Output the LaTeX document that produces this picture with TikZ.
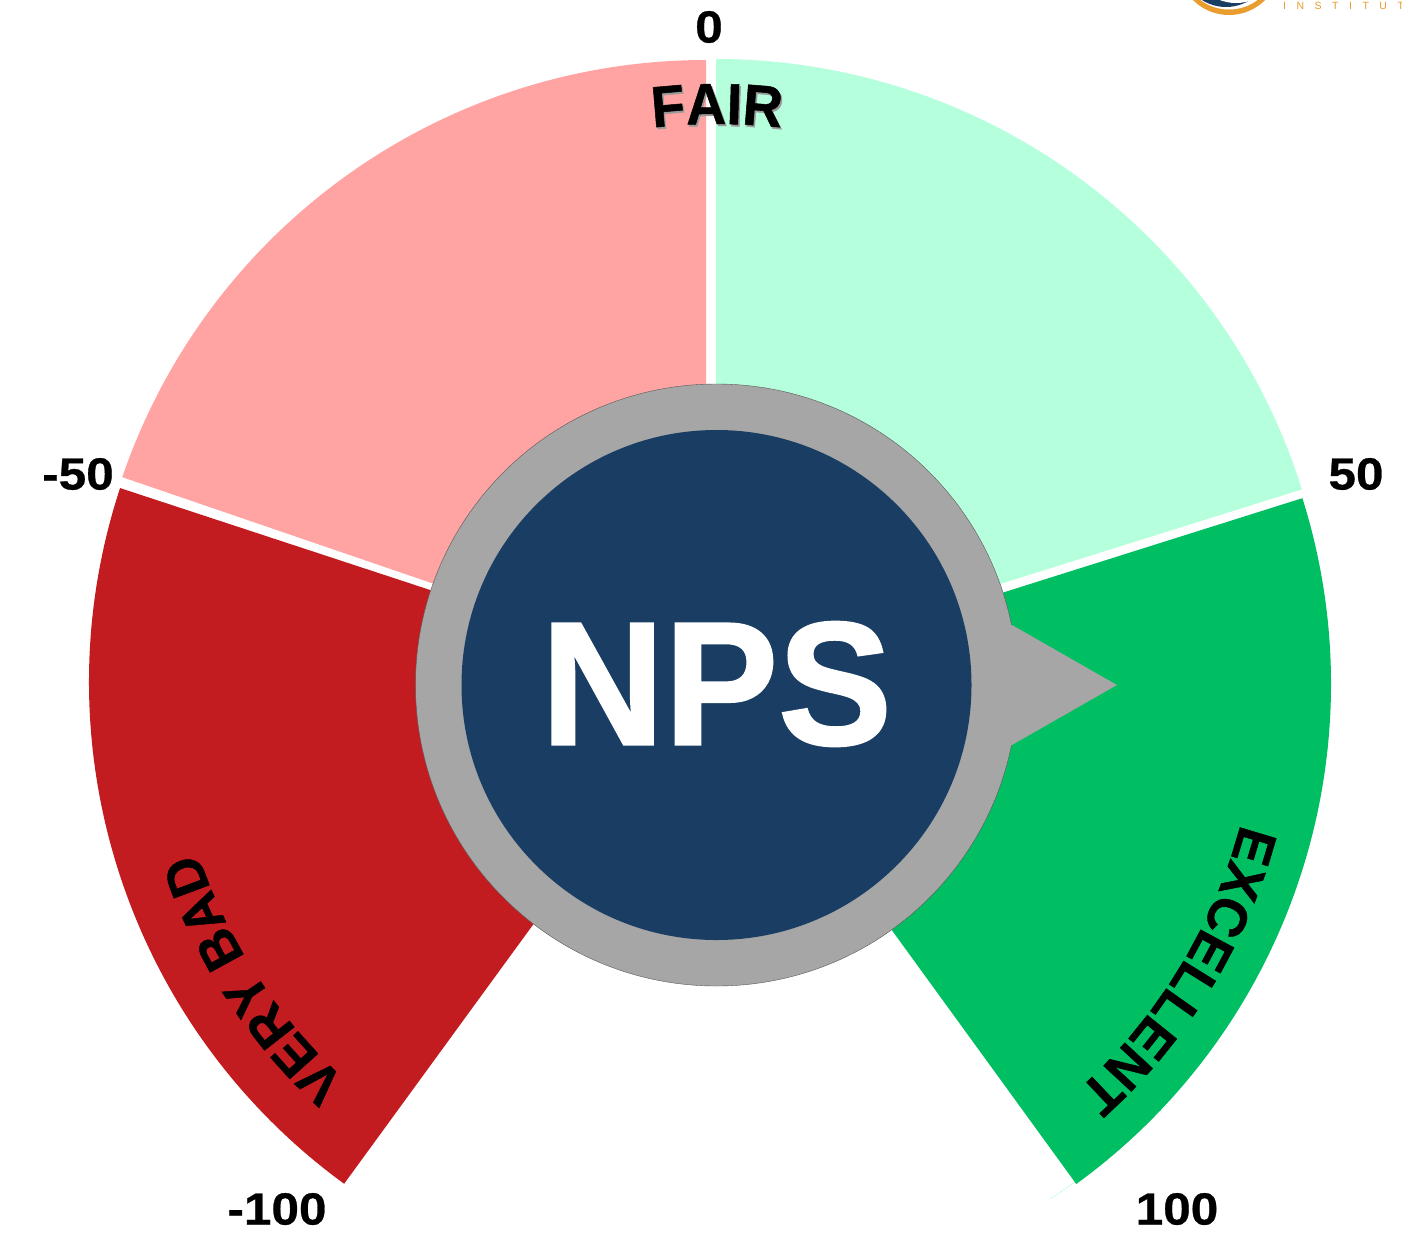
\documentclass[tikz,border=0pt]{standalone}
\usepackage{fontspec}
\setmainfont{Liberation Sans}
\newfontfamily\logofont[LetterSpace=100]{Liberation Sans}
\newfontfamily\widefont[FakeStretch=1.1,FakeBold=.6]{Liberation Sans}
\newfontfamily\npsfont[FakeStretch=.97,FakeBold=1.2]{Liberation Sans}
\newfontfamily\arcfamily[FakeStretch=.97,FakeBold=.9]{Liberation Sans}
\newfontfamily\fairfamily[FakeStretch=.95,FakeBold=.9]{Liberation Sans}
\usetikzlibrary{decorations.text,calc}
\definecolor{pinkc}{HTML}{FFA3A3}
\definecolor{mintc}{HTML}{B6FFDD}
\definecolor{redc}{HTML}{C31C20}
\definecolor{greenc}{HTML}{00BF63}
\definecolor{greyc}{HTML}{A6A6A6}
\definecolor{navyc}{HTML}{1A3E63}
\definecolor{orangec}{HTML}{E89D2E}
\newcommand\arcfont{\fontsize{55}{60}\selectfont\arcfamily\bfseries}
\newcommand\fairfont{\fontsize{58}{60}\selectfont\fairfamily\bfseries}
\tikzset{
  valuelabel/.style={font=\fontsize{45}{50}\selectfont\widefont\bfseries,inner sep=0pt,text=black},
  arctext/.style={decorate,decoration={text along path,text align=center,text={|\arcfont|#1}}},
  fairtext/.style={decorate,decoration={text along path,text align=center,text={|\fairfont\color{#1}|FAIR}}},
}
\begin{document}
\begin{tikzpicture}[x=1pt,y=-1pt]
\useasboundingbox (0,0) rectangle (1402,1232);
\clip (0,0) rectangle (1402,1232);
\fill[white] (0,0) rectangle (1402,1232);
% logo
\fill[orangec] (1229,-36) circle[radius=51];
\fill[white] (1229,-38) circle[radius=47.5];
\fill[navyc] (1226,-38) circle[radius=45];
\fill[white] (1236,-43) circle[radius=46];
\node[inner sep=0pt,anchor=west,text=orangec,font=\fontsize{10.5}{11}\selectfont\logofont] (logo) at (1283,6) {INSTITUT};
% sectors
\coordinate (pinkapex) at (706,677);
\coordinate (mintapex) at (716,673);
\coordinate (redapex) at (710,682);
\coordinate (greenapex) at (713,684);
\coordinate (hub) at (716.5,685);
\draw[mintc,line width=.5pt] (1075,1182) -- (1050,1199);
\fill[pinkc] (pinkapex) -- ++(-90:617) arc[start angle=-90,end angle=-161.1,radius=617] -- cycle;
\fill[mintc] (mintapex) -- ++(-90:614) arc[start angle=-90,end angle=-17.4,radius=614] -- cycle;
\fill[redc] (redapex) -- ++(-161.8:621) arc[start angle=-161.8,end angle=-233.9,radius=621] -- cycle;
\fill[greenc] (greenapex) -- ++(-17.5:618) arc[start angle=-17.5,end angle=54,radius=618] -- cycle;
% hub
\filldraw[fill=greyc,draw=black!65,line width=.4pt] (hub) circle[radius=301];
\coordinate (ptop) at (1012,625);
\coordinate (ptip) at (1117,685);
\coordinate (pbot) at (1012,745);
\fill[greyc] (ptop) -- (ptip) -- (pbot) -- (990,745) -- (990,625) -- cycle;
\fill[navyc] (hub) circle[radius=255];
\node[inner sep=0pt,text=white,font=\fontsize{176}{180}\selectfont\npsfont\bfseries] (nps) at (716.5,684) {NPS};
% value labels
\node[valuelabel] (v0) at (709,27) {0};
\node[valuelabel] (vm50) at (78,474) {-50};
\node[valuelabel] (v50) at (1356,474) {50};
\node[valuelabel] (vm100) at (277,1209) {-100};
\node[valuelabel] (v100) at (1177,1209) {100};
% curved labels
\path[fairtext={black!40}] ($(hub)+(2,2)$) ++(-110:561) arc[start angle=-110,end angle=-70,radius=561];
\path[fairtext={black}] ($(hub)+(.5,0)$) ++(-110:561) arc[start angle=-110,end angle=-70,radius=561];
\path[arctext={EXCELLENT}] (greenapex) ++(-.5:546) arc[start angle=-.5,end angle=63.5,radius=546];
\path[arctext={VERY BAD}] (redapex) ++(107:540) arc[start angle=107,end angle=187,radius=540];
\end{tikzpicture}
\end{document}
